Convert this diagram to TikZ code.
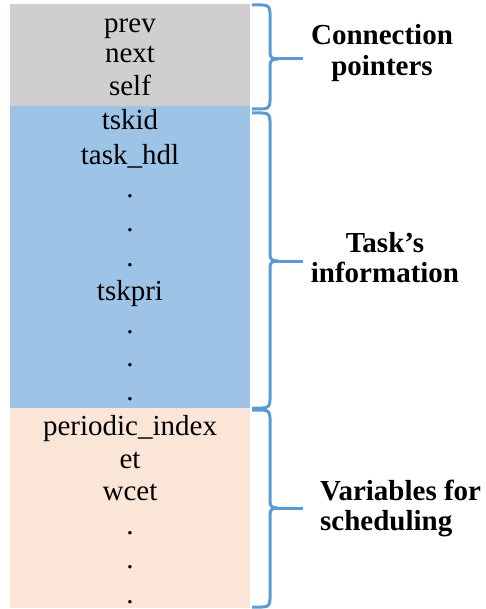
\documentclass[tikz,border=0pt]{standalone}
\usepackage{fontspec}
\newfontfamily\tnr{LiberationSerif}[Extension=.ttf, UprightFont=*-Regular, BoldFont=*-Bold]
\definecolor{ptrgray}{HTML}{D0CECE}
\definecolor{infoblue}{HTML}{9DC3E6}
\definecolor{schedpeach}{HTML}{FBE5D6}
\definecolor{bracecol}{HTML}{5B9BD5}
\tikzset{
  field/.style={anchor=base, font=\tnr\fontsize{29}{31}\selectfont, inner sep=0pt},
  grouplabel/.style={anchor=base, font=\tnr\bfseries\fontsize{29}{31}\selectfont, inner sep=0pt},
  bracestyle/.style={draw=bracecol, line width=3pt, line cap=butt, line join=round},
}
% right curly brace from ytop to ybot (y grows downward), tip at the third argument
\newcommand{\groupbrace}[3]{%
  \draw[bracestyle] (252,#1) -- (262,#1) .. controls (268,#1) and (270,#1+2) .. (270,#1+8)
    -- (270,#3-6) .. controls (270,#3-2) and (272,#3) .. (278,#3)
    .. controls (272,#3) and (270,#3+2) .. (270,#3+6)
    -- (270,#2-8) .. controls (270,#2-2) and (268,#2) .. (262,#2) -- (252,#2);
  \draw[bracestyle] (276,#3) -- (303,#3);
}
\begin{document}
\begin{tikzpicture}[x=1pt,y=-1pt]
\useasboundingbox (0,0) rectangle (485,609);
% the three field blocks
\fill[ptrgray] (10,4) rectangle (250,106);
\fill[infoblue] (10,106) rectangle (250,408);
\fill[schedpeach] (10,408) rectangle (250,608);
% connection pointers
\node[field] (prev) at (130,33) {prev};
\node[field] (next) at (130,63) {next};
\node[field] (self) at (130,96) {self};
% task information
\node[field] (tskid) at (130,130) {tskid};
\node[field] (hdl) at (130,165) {task\_hdl};
\node[field] (d1) at (130,198) {.};
\node[field] (d2) at (130,232) {.};
\node[field] (d3) at (130,266) {.};
\node[field] (tskpri) at (130,300) {tskpri};
\node[field] (d4) at (130,333) {.};
\node[field] (d5) at (130,366) {.};
\node[field] (d6) at (130,400) {.};
% scheduling variables
\node[field] (pidx) at (130,435) {periodic\_index};
\node[field] (et) at (130,468) {et};
\node[field] (wcet) at (130,500) {wcet};
\node[field] (d7) at (130,534) {.};
\node[field] (d8) at (130,568) {.};
\node[field] (d9) at (130,603) {.};
% braces
\groupbrace{5}{109}{59}
\groupbrace{113}{408}{261}
\groupbrace{410}{607}{508}
% group labels
\node[grouplabel] (conn1) at (382,45) {Connection};
\node[grouplabel] (conn2) at (382,76) {pointers};
\node[grouplabel] (task1) at (385,252) {Task’s};
\node[grouplabel] (task2) at (385,282) {information};
\node[grouplabel, anchor=base west] (var1) at (320,500) {Variables for};
\node[grouplabel, anchor=base west] (var2) at (320,530) {scheduling};
\end{tikzpicture}
\end{document}
